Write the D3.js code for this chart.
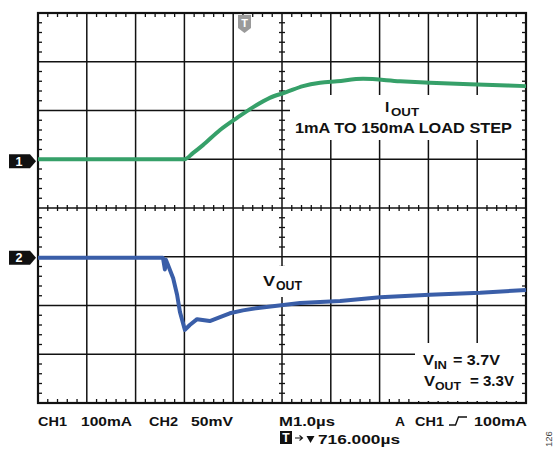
<!DOCTYPE html>
<html><head><meta charset="utf-8">
<script src="https://cdn.jsdelivr.net/npm/d3@7"></script>
<style>
html,body{margin:0;padding:0;background:#fff;}
svg text{font-family:"Liberation Sans",Arial,sans-serif;font-weight:bold;fill:#111;}
</style></head>
<body>
<svg id="c" width="556" height="450"></svg>
<script>
// ---- data (time in µs from left edge of screen) ----
const ch1Time = [0, 3.0, 3.18, 3.38, 3.73, 4.08, 4.41, 4.75, 5.10, 5.43, 5.78, 6.13, 6.66, 7.42, 8.03, 8.85, 10];
const ch1Current = [0, 0, 13, 29, 60, 85, 107, 126, 138, 150, 157, 160, 165, 160, 157, 154, 150]; // mA
const ch2Time = [0, 2.56, 2.60, 2.62, 2.66, 2.77, 2.85, 2.91, 3.01, 3.11, 3.26, 3.52, 3.73, 3.93, 4.20, 4.51, 5.37, 6.19, 7.01, 8.03, 9.06, 10];
const ch2Voltage = [-1, -1, -13, -3, -8, -22, -39, -57, -75, -70, -64, -66, -62, -58, -55, -52.5, -47.5, -45.5, -41.5, -39, -37, -34]; // mV deviation
const bottomLabels = ["CH1", "100mA", "CH2", "50mV", "M1.0µs", "A", "CH1", "100mA"];
const triggerLabel = "716.000µs";
const notes = ["1mA TO 150mA LOAD STEP", "= 3.7V", "= 3.3V"];

const svg = d3.select("#c");
const L = 38, R = 526, T = 13, B = 403;
const x = d3.scaleLinear().domain([0, 10]).range([L, R]);
const div = d3.scaleLinear().domain([-4, 4]).range([B, T]);
const y1 = d3.scaleLinear().domain([-500, 300]).range([B, T]);   // 100 mA/div, ground +1 div
const y2 = d3.scaleLinear().domain([-150, 250]).range([B, T]);   // 50 mV/div, ground -1 div

const g = svg.append("g");
d3.range(1, 10).forEach(i => {
  g.append("line").attr("x1", x(i)).attr("x2", x(i)).attr("y1", T).attr("y2", B)
    .attr("stroke", "#111").attr("stroke-width", 1.5);
});
d3.range(-3, 4).forEach(i => {
  g.append("line").attr("x1", L).attr("x2", R).attr("y1", div(i)).attr("y2", div(i))
    .attr("stroke", "#111").attr("stroke-width", 1.5);
});
const minorX = d3.range(0, 50).map(i => i / 5).filter(v => v % 1 !== 0);
const minorY = d3.range(-20, 20).map(i => i / 5).filter(v => Math.abs(v % 1) > 1e-9);
minorX.forEach(v => {
  const px = x(v);
  g.append("line").attr("x1", px).attr("x2", px).attr("y1", T).attr("y2", T + 4).attr("stroke", "#111").attr("stroke-width", 1.3);
  g.append("line").attr("x1", px).attr("x2", px).attr("y1", B).attr("y2", B - 4).attr("stroke", "#111").attr("stroke-width", 1.3);
  g.append("line").attr("x1", px).attr("x2", px).attr("y1", div(0) - 3).attr("y2", div(0) + 3).attr("stroke", "#111").attr("stroke-width", 1.3);
});
minorY.forEach(v => {
  const py = div(v);
  g.append("line").attr("y1", py).attr("y2", py).attr("x1", L).attr("x2", L + 4).attr("stroke", "#111").attr("stroke-width", 1.3);
  g.append("line").attr("y1", py).attr("y2", py).attr("x1", R).attr("x2", R - 4).attr("stroke", "#111").attr("stroke-width", 1.3);
  g.append("line").attr("y1", py).attr("y2", py).attr("x1", x(5) - 3).attr("x2", x(5) + 3).attr("stroke", "#111").attr("stroke-width", 1.3);
});
[[290, 95, 231, 45], [258, 266, 48, 31], [415, 343, 106, 58]].forEach(b => {
  g.append("rect").attr("x", b[0]).attr("y", b[1]).attr("width", b[2]).attr("height", b[3]).attr("fill", "#fff");
});
g.append("rect").attr("x", L).attr("y", T).attr("width", R - L).attr("height", B - T)
  .attr("fill", "none").attr("stroke", "#111").attr("stroke-width", 2.2);

// traces
const line1 = d3.line().x((d, i) => x(ch1Time[i])).y(d => y1(d)).curve(d3.curveMonotoneX);
const line2 = d3.line().x((d, i) => x(ch2Time[i])).y(d => y2(d)).curve(d3.curveLinear);
svg.append("path").attr("d", line1(ch1Current)).attr("fill", "none")
  .attr("stroke", "#36a069").attr("stroke-width", 4).attr("stroke-linejoin", "round");
svg.append("path").attr("d", line2(ch2Voltage)).attr("fill", "none")
  .attr("stroke", "#3a5ea8").attr("stroke-width", 4).attr("stroke-linejoin", "round");

function chMarker(label, yy) {
  svg.append("path").attr("d", `M9,${yy - 7}H30L36,${yy}L30,${yy + 7}H9Z`).attr("fill", "#111");
  svg.append("text").attr("x", 19).attr("y", yy + 4.5).attr("text-anchor", "middle")
    .style("fill", "#fff").style("font-size", "12.5px").text(label);
}
chMarker("1", y1(0) + 2);
chMarker("2", y2(0) + 1);

const tx = 244.5;
svg.append("path").attr("d", `M${tx - 6.5},15H${tx + 6.5}V28L${tx},33L${tx - 6.5},28Z`).attr("fill", "#9a9a9a");
svg.append("text").attr("x", tx).attr("y", 27).attr("text-anchor", "middle")
  .style("fill", "#fff").style("font-size", "11px").text("T");

function txt(xx, yy, s, size, len, anchor) {
  const t = svg.append("text").attr("x", xx).attr("y", yy).style("font-size", size + "px").text(s);
  if (len) t.attr("textLength", len).attr("lengthAdjust", "spacingAndGlyphs");
  if (anchor) t.attr("text-anchor", anchor);
  return t;
}
// I_OUT
txt(385, 112, "I", 15.5);
txt(391, 116, "OUT", 11.5, 28);
txt(295, 133, notes[0], 14, 217);
// V_OUT
txt(263, 286, "V", 15, 12);
txt(276, 290, "OUT", 12, 26);
// V_IN, V_OUT
txt(423, 365, "V", 14, 11);
txt(434, 369, "IN", 11.5, 13);
txt(453, 365, notes[1], 14, 47);
txt(424, 386, "V", 14, 11);
txt(435, 390, "OUT", 11.5, 26);
txt(470, 386, notes[2], 14, 44);

// bottom labels
const by = 426;
const bx = [38, 81, 149, 191, 279, 395, 415, 474];
const bw = [29, 51, 29, 42, 56, 10, 29, 53];
bottomLabels.forEach((s, i) => txt(bx[i], by, s, 13.5, bw[i]));
svg.append("path").attr("d", "M449,425H455.5L458.5,417H467").attr("fill", "none").attr("stroke", "#111").attr("stroke-width", 1.4);

svg.append("rect").attr("x", 280).attr("y", 431).attr("width", 12).attr("height", 13).attr("fill", "#111");
svg.append("text").attr("x", 286).attr("y", 442).attr("text-anchor", "middle").style("fill", "#fff").style("font-size", "12px").text("T");
svg.append("path").attr("d", "M295,438H302M299.5,435.5L302.5,438L299.5,440.5").attr("fill", "none").attr("stroke", "#111").attr("stroke-width", 1.1);
svg.append("path").attr("d", "M306.5,436H314.5L310.5,443Z").attr("fill", "#111");
txt(318, 444, triggerLabel, 13.5, 82);

svg.append("text").attr("transform", "translate(552,447) rotate(-90)").style("font-size", "9.5px")
  .style("font-weight", "normal").style("fill", "#444").text("126");
</script>
</body></html>
